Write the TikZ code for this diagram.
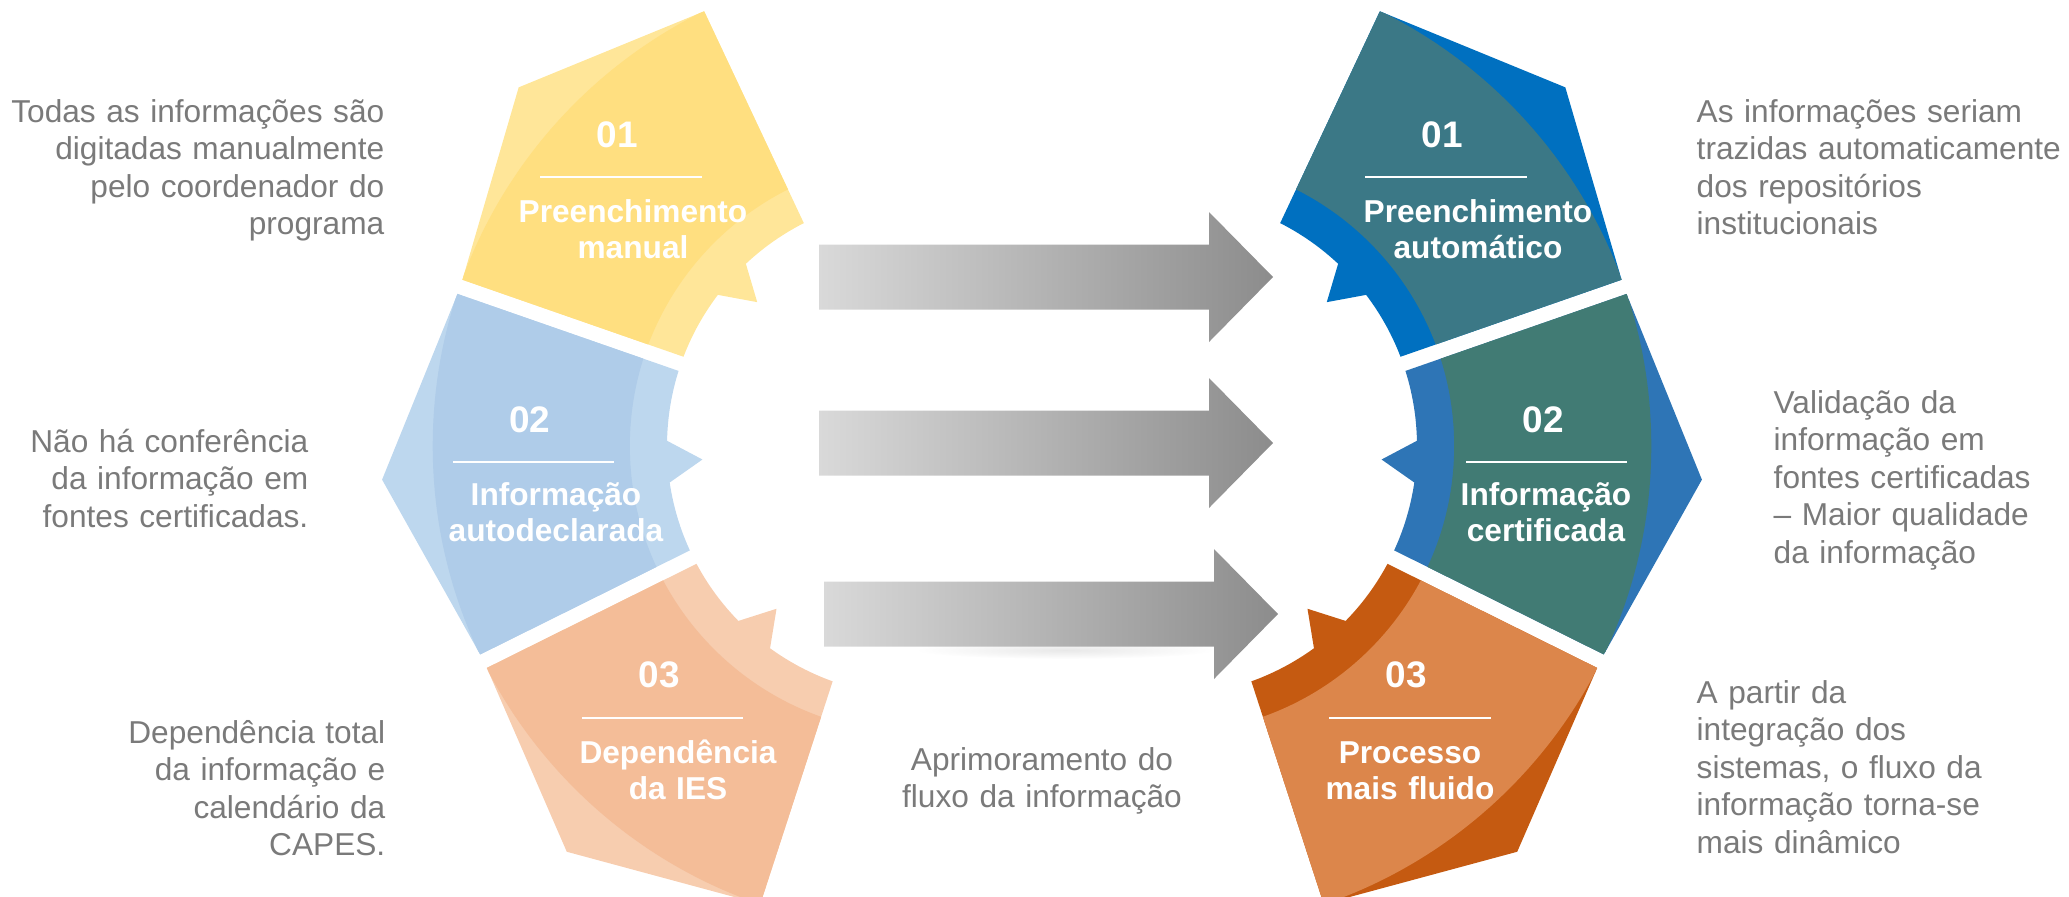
\documentclass[tikz,border=0pt]{standalone}
\usepackage{fontspec}
\setmainfont{Liberation Sans}
\usetikzlibrary{calc}

\definecolor{txtgray}{HTML}{7A7A7A}
\definecolor{ylwbody}{HTML}{FFDF80}
\definecolor{ylwrim}{HTML}{FFE699}
\definecolor{bluebody}{HTML}{AFCCE9}
\definecolor{bluerim}{HTML}{BDD7EE}
\definecolor{orgbody}{HTML}{F4BD98}
\definecolor{orgrim}{HTML}{F7CDAF}
\definecolor{tealbody}{HTML}{3B7886}
\definecolor{tealrim}{HTML}{0070C0}
\definecolor{greenbody}{HTML}{417B74}
\definecolor{greenrim}{HTML}{2E75B6}
\definecolor{rustbody}{HTML}{DC864B}
\definecolor{rustrim}{HTML}{C55A11}
\definecolor{arrowl}{HTML}{D9D9D9}
\definecolor{arrowr}{HTML}{8C8C8C}

% outline of one gear piece: centre x, centre y, middle angle
\newcommand\gearpath[3]{($(#1,#2)+(#3-22.8:484)+(#3+67.2:7.5)$) -- ($(#1,#2)+(#3:536)$)
  -- ($(#1,#2)+(#3+22.8:484)+(#3-67.2:7.5)$)
  -- plot[domain=#3+21.08:#3+4.8,samples=15] ({#1+250*cos(\x)},{#2+250*sin(\x)})
  -- ($(#1,#2)+(#3:215)$)
  -- plot[domain=#3-4.8:#3-21.08,samples=15] ({#1+250*cos(\x)},{#2+250*sin(\x)}) -- cycle}

% gear piece with its band: centre x, centre y, angle, body colour, rim colour
\newcommand\gearpiece[5]{%
  \fill[fill=#5] \gearpath{#1}{#2}{#3};
  \begin{scope}
    \clip \gearpath{#1}{#2}{#3};
    \fill[fill=#4, even odd rule] (#1,#2) circle[radius=4.84cm] (#1,#2) circle[radius=2.87cm];
  \end{scope}}

\begin{document}
\begin{tikzpicture}[x=0.01cm, y=-0.01cm,
  side/.style={text=txtgray, font=\fontsize{9}{10.67}\selectfont, inner sep=0pt, text width=4.3cm},
  num/.style={text=white, font=\bfseries\fontsize{10.5}{12}\selectfont, inner sep=0pt, anchor=base},
  lbl/.style={text=white, font=\bfseries\fontsize{9}{10.24}\selectfont, inner sep=0pt, anchor=base, text width=3cm, align=center},
  rule/.style={white, line width=0.8pt}]
  \useasboundingbox (0,0) rectangle (2069,896);

  % soft shadow below the last arrow
  \shade[inner color=black!9, outer color=white] (1065,650) ellipse [x radius=1.5cm, y radius=0.09cm];

  % the two gears
  \foreach \cx/\m/\bodyc/\rimc in {917/222/ylwbody/ylwrim, 917/176.4/bluebody/bluerim, 917/130.8/orgbody/orgrim,
      1167/-42/tealbody/tealrim, 1167/3.6/greenbody/greenrim, 1167/49.2/rustbody/rustrim}
    \gearpiece{\cx}{446}{\m}{\bodyc}{\rimc};

  % arrows in the middle
  \foreach \y/\dx in {277/0, 443/0, 614/5}
    \shade[left color=arrowl, right color=arrowr] (819+\dx,\y-32.5) -- (1209+\dx,\y-32.5) -- (1209+\dx,\y-65)
      -- (1273+\dx,\y) -- (1209+\dx,\y+65) -- (1209+\dx,\y+32.5) -- (819+\dx,\y+32.5) -- cycle;

  % left gear labels
  \node[num] (n1l) at (617,147) {01};
  \draw[rule] (540,177) -- (702,177);
  \node[lbl] (l1l) at (633,222) {Preenchimento\\manual};
  \node[num] (n2l) at (530,432) {02};
  \draw[rule] (453,462) -- (614,462);
  \node[lbl] (l2l) at (556,505) {Informação\\autodeclarada};
  \node[num] (n3l) at (659,687) {03};
  \draw[rule] (582,718) -- (743,718);
  \node[lbl] (l3l) at (678,763) {Dependência\\da IES};

  % right gear labels
  \node[num] (n1r) at (1442,147) {01};
  \draw[rule] (1365,177) -- (1527,177);
  \node[lbl] (l1r) at (1478,222) {Preenchimento\\automático};
  \node[num] (n2r) at (1543,432) {02};
  \draw[rule] (1466,462) -- (1627,462);
  \node[lbl] (l2r) at (1546,505) {Informação\\certificada};
  \node[num] (n3r) at (1406,687) {03};
  \draw[rule] (1329,718) -- (1491,718);
  \node[lbl] (l3r) at (1410,763) {Processo\\mais fluido};

  % side texts
  \node[side, anchor=base east, align=right] (t1l) at (385,122) {Todas as informações são\\digitadas manualmente\\pelo coordenador do\\programa};
  \node[side, anchor=base east, align=right] (t2l) at (309,452) {Não há conferência\\da informação em\\fontes certificadas.};
  \node[side, anchor=base east, align=right] (t3l) at (386,743) {Dependência total\\da informação e\\calendário da\\CAPES.};
  \node[side, anchor=base west, align=left] (t1r) at (1696,122) {As informações seriam\\trazidas automaticamente\\dos repositórios\\institucionais};
  \node[side, anchor=base west, align=left] (t2r) at (1773,413) {Validação da\\informação em\\fontes certificadas\\– Maior qualidade\\da informação};
  \node[side, anchor=base west, align=left] (t3r) at (1696,703) {A partir da\\integração dos\\sistemas, o fluxo da\\informação torna-se\\mais dinâmico};
  \node[side, anchor=base, align=center] (tmid) at (1042,770) {Aprimoramento do\\fluxo da informação};
\end{tikzpicture}
\end{document}
